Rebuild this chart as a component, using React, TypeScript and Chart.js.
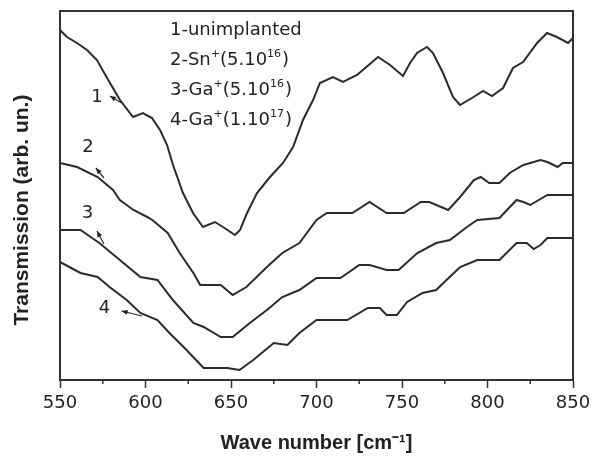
import React, { useEffect, useRef } from "react";
import { Chart, registerables } from "chart.js";

Chart.register(...registerables);

// ---- data (wave number in cm^-1, transmission in arbitrary units) ----
const wave1 = [550, 554.1, 559.9, 565.8, 571.6, 579.2, 585.1, 592.7, 598.5, 603.8, 608.5, 612.6, 616.1, 621.9, 627.8, 633.6, 640.6, 645.3, 652.3, 655.3, 659.4, 665.2, 672.8, 680.4, 686.3, 692.1, 698.0, 702.0, 709.6, 715.5, 723.7, 736.0, 743.0, 750.6, 754.7, 758.8, 764.6, 768.1, 774.0, 779.8, 783.9, 790.9, 797.4, 802.6, 809.1, 814.9, 820.8, 829.0, 834.8, 840.6, 847.1, 850];
const trans1 = [350, 343, 337, 330, 320, 297, 280, 263, 267, 262, 250, 235, 215, 187, 167, 153, 158, 153, 145, 150, 167, 187, 203, 217, 233, 260, 280, 297, 303, 298, 305, 323, 315, 304, 317, 327, 333, 327, 307, 283, 275, 282, 289, 284, 292, 312, 318, 337, 347, 343, 337, 342];

const wave2 = [550, 560, 572, 581, 585, 593, 601, 604, 613, 620, 628, 632, 644, 651, 659, 671, 680, 690, 700, 706, 721, 731, 741, 751, 761, 766, 777, 784, 792, 796, 801, 807, 813, 821, 831, 835, 841, 844, 850];
const trans2 = [217, 213, 203, 190, 180, 170, 163, 160, 147, 127, 107, 95, 95, 85, 93, 113, 127, 137, 160, 167, 167, 178, 167, 167, 178, 178, 170, 183, 200, 203, 197, 197, 207, 215, 220, 218, 213, 217, 217];

const wave3 = [550, 562, 573, 585, 597, 607, 616, 628, 634, 644, 651, 661, 671, 680, 690, 700, 714, 725, 731, 741, 748, 759, 770, 778, 788, 794, 807, 817, 821, 825, 835, 850];
const trans3 = [150, 150, 137, 120, 103, 100, 80, 57, 53, 43, 43, 57, 70, 83, 90, 102, 102, 115, 115, 110, 110, 127, 137, 140, 153, 160, 162, 180, 178, 175, 185, 185];

const wave4 = [550, 562, 572, 579, 589, 597, 607, 614, 624, 634, 648, 655, 663, 675, 683, 690, 700, 718, 730, 737, 741, 747, 753, 762, 770, 776, 784, 794, 807, 817, 823, 827, 831, 835, 850];
const trans4 = [118, 107, 103, 93, 80, 67, 60, 47, 30, 12, 12, 10, 20, 37, 35, 47, 60, 60, 72, 72, 65, 65, 78, 87, 90, 100, 113, 120, 120, 137, 137, 131, 135, 142, 142];

const minorTicks = [575, 625, 675, 725, 775, 825];

// curve number labels with arrows
const curveLabels = ["1", "2", "3", "4"];
const labelWave = [571.6, 566.4, 566.0, 576.0];
const labelTrans = [283, 233, 167, 72];
const arrowHeadWave = [579.2, 571.0, 571.6, 586.0];
const arrowHeadTrans = [284, 212, 149, 69];
const arrowTailWave = [586.0, 575.7, 575.7, 598.0];
const arrowTailTrans = [277, 202, 136, 64];

// legend text pieces
const legendMain = ["1-unimplanted", "2-Sn", "3-Ga", "4-Ga"];
const legendIon = ["", "+", "+", "+"];
const legendDose = ["", "(5.10", "(5.10", "(1.10"];
const legendExp = ["", "16", "16", "17"];

const LINE = "#2b2b2b";
const TEXT = "#222";
const FONT = "'DejaVu Sans', sans-serif";

const pair = (xs: number[], ys: number[]) => xs.map((x, i) => ({ x, y: ys[i] }));

const decorPlugin = {
  id: "decor",
  afterDraw(chart: any) {
    const { ctx, chartArea: a, scales } = chart;
    const xs = scales.x;
    const ys = scales.y;
    ctx.save();
    // frame
    ctx.strokeStyle = "#333";
    ctx.lineWidth = 2;
    ctx.strokeRect(a.left, a.top, a.right - a.left, a.bottom - a.top);
    // minor ticks
    ctx.lineWidth = 1.5;
    minorTicks.forEach((v) => {
      const px = xs.getPixelForValue(v);
      ctx.beginPath();
      ctx.moveTo(px, a.bottom);
      ctx.lineTo(px, a.bottom + 4);
      ctx.stroke();
    });
    // curve labels and arrows
    ctx.fillStyle = TEXT;
    ctx.font = `18px ${FONT}`;
    ctx.textAlign = "center";
    ctx.textBaseline = "middle";
    curveLabels.forEach((t, i) => {
      ctx.fillText(t, xs.getPixelForValue(labelWave[i]), ys.getPixelForValue(labelTrans[i]));
      const hx = xs.getPixelForValue(arrowHeadWave[i]);
      const hy = ys.getPixelForValue(arrowHeadTrans[i]);
      const tx = xs.getPixelForValue(arrowTailWave[i]);
      const ty = ys.getPixelForValue(arrowTailTrans[i]);
      ctx.strokeStyle = LINE;
      ctx.lineWidth = 1.2;
      ctx.beginPath();
      ctx.moveTo(tx, ty);
      ctx.lineTo(hx, hy);
      ctx.stroke();
      const ang = Math.atan2(hy - ty, hx - tx);
      const L = 6, W = 2.5;
      ctx.beginPath();
      ctx.moveTo(hx, hy);
      ctx.lineTo(hx - L * Math.cos(ang) + W * Math.sin(ang), hy - L * Math.sin(ang) - W * Math.cos(ang));
      ctx.lineTo(hx - L * Math.cos(ang) - W * Math.sin(ang), hy - L * Math.sin(ang) + W * Math.cos(ang));
      ctx.closePath();
      ctx.fill();
    });
    // legend
    ctx.textAlign = "left";
    ctx.textBaseline = "alphabetic";
    const x0 = a.left + 110;
    legendMain.forEach((t, i) => {
      const base = a.top + 24 + i * 30;
      let x = x0;
      ctx.font = `18px ${FONT}`;
      ctx.fillText(t, x, base);
      x += ctx.measureText(t).width;
      if (legendIon[i]) {
        ctx.font = `11px ${FONT}`;
        ctx.fillText(legendIon[i], x, base - 8);
        x += ctx.measureText(legendIon[i]).width;
        ctx.font = `18px ${FONT}`;
        ctx.fillText(legendDose[i], x, base);
        x += ctx.measureText(legendDose[i]).width;
        ctx.font = `11px ${FONT}`;
        ctx.fillText(legendExp[i], x, base - 8);
        x += ctx.measureText(legendExp[i]).width + 1;
        ctx.font = `18px ${FONT}`;
        ctx.fillText(")", x, base);
      }
    });
    ctx.restore();
  },
};

export default function App() {
  const ref = useRef<HTMLCanvasElement | null>(null);
  useEffect(() => {
    document.body.style.margin = "0";
    document.body.style.overflow = "hidden";
    const ds = (xs: number[], ys: number[]) => ({
      data: pair(xs, ys),
      borderColor: LINE,
      borderWidth: 2,
      pointRadius: 0,
      tension: 0,
      fill: false,
    });
    const chart = new Chart(ref.current as HTMLCanvasElement, {
      type: "line",
      data: {
        datasets: [ds(wave1, trans1), ds(wave2, trans2), ds(wave3, trans3), ds(wave4, trans4)],
      },
      options: {
        animation: false,
        responsive: true,
        maintainAspectRatio: false,
        layout: { padding: { top: 11, right: 18, left: 0, bottom: 0 } },
        plugins: { legend: { display: false }, tooltip: { enabled: false } },
        scales: {
          x: {
            type: "linear",
            min: 550,
            max: 850,
            ticks: { stepSize: 50, color: TEXT, font: { family: FONT, size: 18 }, padding: 5, maxRotation: 0 },
            grid: { display: true, drawOnChartArea: false, drawTicks: true, tickLength: 8, tickWidth: 1.5, tickColor: "#333" },
            border: { display: true, color: "#333", width: 2 },
            title: {
              display: true,
              text: "Wave number [cm⁻¹]",
              color: TEXT,
              font: { family: "'Liberation Sans', Arial, sans-serif", size: 20, weight: "bold", lineHeight: 1.2 },
              padding: { top: 0, bottom: 3 },
            },
            afterFit: (s: any) => { s.height = 78; s.paddingLeft = 0; s.paddingRight = 0; },
          },
          y: {
            type: "linear",
            min: 0,
            max: 369,
            ticks: { display: false },
            grid: { display: false },
            border: { display: true, color: "#333", width: 2 },
            title: {
              display: true,
              text: "Transmission (arb. un.)     ",
              color: TEXT,
              font: { family: "'Liberation Sans', Arial, sans-serif", size: 21, weight: "bold", lineHeight: 1.2 },
              padding: { top: 10, bottom: 0 },
            },
            afterFit: (s: any) => { s.width = 60; s.paddingTop = 0; s.paddingBottom = 0; },
          },
        },
      },
      plugins: [decorPlugin],
    } as any);
    return () => chart.destroy();
  }, []);
  return (
    <div style={{ width: 591, height: 458, position: "relative" }}>
      <canvas ref={ref} />
    </div>
  );
}
